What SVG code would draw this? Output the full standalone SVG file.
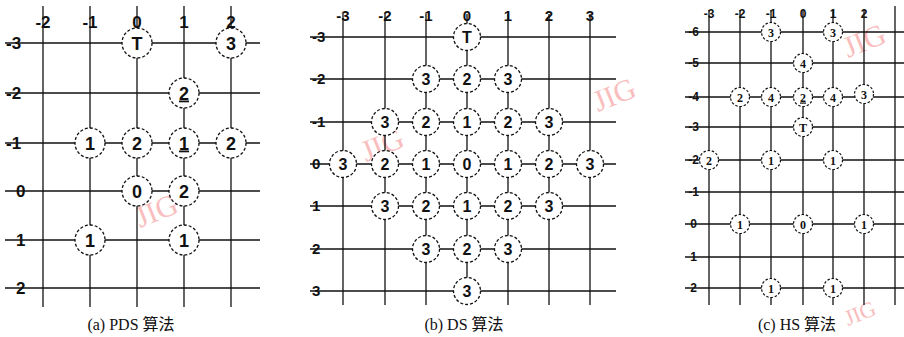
<svg xmlns="http://www.w3.org/2000/svg" width="904" height="337" viewBox="0 0 904 337">
<style>
.g line{stroke:#111;stroke-width:1.3}
.na circle{fill:#fff;stroke:#111;stroke-width:1.3;stroke-dasharray:3 2}
.na text{font-family:"Liberation Sans",Arial,sans-serif;font-weight:bold;font-size:18px;text-anchor:middle;fill:#111}
.nb circle{fill:#fff;stroke:#111;stroke-width:1.3;stroke-dasharray:3 2}
.nb text{font-family:"Liberation Sans",Arial,sans-serif;font-weight:bold;font-size:16px;text-anchor:middle;fill:#111}
.nc circle{fill:#fff;stroke:#111;stroke-width:1.2;stroke-dasharray:2.5 1.8}
.nc text{font-family:"Liberation Serif","Times New Roman",serif;font-weight:bold;font-size:12px;text-anchor:middle;fill:#111}
.la{font-family:"Liberation Sans",Arial,sans-serif;font-weight:bold;font-size:17px;fill:#111}
.lb{font-family:"Liberation Sans",Arial,sans-serif;font-weight:bold;font-size:15px;fill:#111}
.lc{font-family:"Liberation Sans",Arial,sans-serif;font-weight:bold;font-size:12px;fill:#111}
.cap{font-family:"Liberation Serif","Noto Sans CJK SC",serif;font-size:16px;fill:#111;text-anchor:middle}
.wm{font-family:"Liberation Serif",serif;font-size:30px;fill:#f7a8a8;opacity:0.75}
</style>

<!-- watermarks -->
<g id="watermarks">
<text class="wm" transform="translate(140,228) rotate(-22)">JIG</text>
<text class="wm" transform="translate(366,162) rotate(-22)">JIG</text>
<text class="wm" transform="translate(598,112) rotate(-22)">JIG</text>
<text class="wm" transform="translate(848,58) rotate(-22)">JIG</text>
<text class="wm" style="font-size:22px" transform="translate(848,326) rotate(-22)">JIG</text>
</g>

<!-- connectors: grid lines -->
<g id="connectors" class="g">
<!-- panel a -->
<line x1="5" y1="43" x2="260" y2="43"/>
<line x1="5" y1="93" x2="260" y2="93"/>
<line x1="5" y1="143" x2="260" y2="143"/>
<line x1="5" y1="191" x2="260" y2="191"/>
<line x1="5" y1="240" x2="260" y2="240"/>
<line x1="5" y1="288" x2="260" y2="288"/>
<line x1="43" y1="6" x2="43" y2="307"/>
<line x1="90" y1="6" x2="90" y2="307"/>
<line x1="137" y1="6" x2="137" y2="307"/>
<line x1="184" y1="6" x2="184" y2="307"/>
<line x1="231" y1="6" x2="231" y2="307"/>
<!-- panel b -->
<line x1="310" y1="37" x2="616" y2="37"/>
<line x1="310" y1="79" x2="616" y2="79"/>
<line x1="310" y1="122" x2="616" y2="122"/>
<line x1="310" y1="164" x2="616" y2="164"/>
<line x1="310" y1="206" x2="616" y2="206"/>
<line x1="310" y1="249" x2="616" y2="249"/>
<line x1="310" y1="291" x2="616" y2="291"/>
<line x1="343" y1="14" x2="343" y2="305"/>
<line x1="385" y1="14" x2="385" y2="305"/>
<line x1="426" y1="14" x2="426" y2="305"/>
<line x1="467" y1="14" x2="467" y2="305"/>
<line x1="508" y1="14" x2="508" y2="305"/>
<line x1="549" y1="14" x2="549" y2="305"/>
<line x1="590" y1="14" x2="590" y2="305"/>
<!-- panel c -->
<line x1="685" y1="32" x2="904" y2="32"/>
<line x1="685" y1="63" x2="904" y2="63"/>
<line x1="685" y1="97" x2="904" y2="97"/>
<line x1="685" y1="127" x2="904" y2="127"/>
<line x1="685" y1="160" x2="904" y2="160"/>
<line x1="685" y1="192" x2="904" y2="192"/>
<line x1="685" y1="224" x2="904" y2="224"/>
<line x1="685" y1="257" x2="904" y2="257"/>
<line x1="685" y1="288" x2="904" y2="288"/>
<line x1="709" y1="10" x2="709" y2="305"/>
<line x1="740" y1="10" x2="740" y2="305"/>
<line x1="771" y1="10" x2="771" y2="305"/>
<line x1="803" y1="10" x2="803" y2="305"/>
<line x1="833" y1="10" x2="833" y2="305"/>
<line x1="864" y1="10" x2="864" y2="305"/>
<line x1="895" y1="6" x2="895" y2="305"/>
</g>

<!-- axis labels -->
<g id="labels-a" class="la">
<text x="43" y="28" text-anchor="middle">-2</text>
<text x="90" y="28" text-anchor="middle">-1</text>
<text x="137" y="28" text-anchor="middle">0</text>
<text x="184" y="28" text-anchor="middle">1</text>
<text x="231" y="28" text-anchor="middle">2</text>
<text x="6" y="49">-3</text>
<text x="6" y="99">-2</text>
<text x="6" y="149">-1</text>
<text x="16" y="197">0</text>
<text x="16" y="246">1</text>
<text x="16" y="294">2</text>
</g>
<g id="labels-b" class="lb">
<text x="343" y="21" text-anchor="middle">-3</text>
<text x="385" y="21" text-anchor="middle">-2</text>
<text x="426" y="21" text-anchor="middle">-1</text>
<text x="467" y="21" text-anchor="middle">0</text>
<text x="508" y="21" text-anchor="middle">1</text>
<text x="549" y="21" text-anchor="middle">2</text>
<text x="590" y="21" text-anchor="middle">3</text>
<text x="312" y="42">-3</text>
<text x="312" y="84">-2</text>
<text x="312" y="127">-1</text>
<text x="312" y="169">0</text>
<text x="312" y="211">1</text>
<text x="312" y="254">2</text>
<text x="312" y="296">3</text>
</g>
<g id="labels-c" class="lc">
<text x="709" y="18" text-anchor="middle">-3</text>
<text x="740" y="18" text-anchor="middle">-2</text>
<text x="771" y="18" text-anchor="middle">-1</text>
<text x="803" y="18" text-anchor="middle">0</text>
<text x="833" y="18" text-anchor="middle">1</text>
<text x="864" y="18" text-anchor="middle">2</text>
<text x="699" y="36" text-anchor="end">-6</text>
<text x="699" y="67" text-anchor="end">-5</text>
<text x="699" y="101" text-anchor="end">-4</text>
<text x="699" y="131" text-anchor="end">-3</text>
<text x="699" y="164" text-anchor="end">-2</text>
<text x="699" y="196" text-anchor="end">-1</text>
<text x="697" y="228" text-anchor="end">0</text>
<text x="697" y="261" text-anchor="end">1</text>
<text x="697" y="292" text-anchor="end">2</text>
</g>

<!-- panel a nodes -->
<g class="na">
<g id="a-T"><circle cx="137" cy="43" r="15"/><text x="137" y="49.5">T</text></g>
<g id="a-3"><circle cx="231" cy="43" r="15"/><text x="231" y="49.5">3</text></g>
<g id="a-2u"><circle cx="184" cy="93" r="15"/><text x="184" y="99.5" text-decoration="underline">2</text></g>
<g id="a-1a"><circle cx="90" cy="143" r="15"/><text x="90" y="149.5">1</text></g>
<g id="a-2a"><circle cx="137" cy="143" r="15"/><text x="137" y="149.5">2</text></g>
<g id="a-1u"><circle cx="184" cy="143" r="15"/><text x="184" y="149.5" text-decoration="underline">1</text></g>
<g id="a-2b"><circle cx="231" cy="143" r="15"/><text x="231" y="149.5">2</text></g>
<g id="a-0"><circle cx="137" cy="191" r="15"/><text x="137" y="197.5">0</text></g>
<g id="a-2c"><circle cx="184" cy="191" r="15"/><text x="184" y="197.5">2</text></g>
<g id="a-1b"><circle cx="90" cy="240" r="15"/><text x="90" y="246.5">1</text></g>
<g id="a-1c"><circle cx="184" cy="240" r="15"/><text x="184" y="246.5">1</text></g>
</g>

<!-- panel b nodes -->
<g class="nb">
<g id="b-T"><circle cx="467" cy="37" r="13.5"/><text x="467" y="43">T</text></g>
<g id="b-m2a"><circle cx="426" cy="79" r="13.5"/><text x="426" y="85">3</text></g>
<g id="b-m2b"><circle cx="467" cy="79" r="13.5"/><text x="467" y="85">2</text></g>
<g id="b-m2c"><circle cx="508" cy="79" r="13.5"/><text x="508" y="85">3</text></g>
<g id="b-m1a"><circle cx="385" cy="122" r="13.5"/><text x="385" y="128">3</text></g>
<g id="b-m1b"><circle cx="426" cy="122" r="13.5"/><text x="426" y="128">2</text></g>
<g id="b-m1c"><circle cx="467" cy="122" r="13.5"/><text x="467" y="128">1</text></g>
<g id="b-m1d"><circle cx="508" cy="122" r="13.5"/><text x="508" y="128">2</text></g>
<g id="b-m1e"><circle cx="549" cy="122" r="13.5"/><text x="549" y="128">3</text></g>
<g id="b-0a"><circle cx="343" cy="164" r="13.5"/><text x="343" y="170">3</text></g>
<g id="b-0b"><circle cx="385" cy="164" r="13.5"/><text x="385" y="170">2</text></g>
<g id="b-0c"><circle cx="426" cy="164" r="13.5"/><text x="426" y="170">1</text></g>
<g id="b-0d"><circle cx="467" cy="164" r="13.5"/><text x="467" y="170">0</text></g>
<g id="b-0e"><circle cx="508" cy="164" r="13.5"/><text x="508" y="170">1</text></g>
<g id="b-0f"><circle cx="549" cy="164" r="13.5"/><text x="549" y="170">2</text></g>
<g id="b-0g"><circle cx="590" cy="164" r="13.5"/><text x="590" y="170">3</text></g>
<g id="b-1a"><circle cx="385" cy="206" r="13.5"/><text x="385" y="212">3</text></g>
<g id="b-1b"><circle cx="426" cy="206" r="13.5"/><text x="426" y="212">2</text></g>
<g id="b-1c"><circle cx="467" cy="206" r="13.5"/><text x="467" y="212">1</text></g>
<g id="b-1d"><circle cx="508" cy="206" r="13.5"/><text x="508" y="212">2</text></g>
<g id="b-1e"><circle cx="549" cy="206" r="13.5"/><text x="549" y="212">3</text></g>
<g id="b-2a"><circle cx="426" cy="249" r="13.5"/><text x="426" y="255">3</text></g>
<g id="b-2b"><circle cx="467" cy="249" r="13.5"/><text x="467" y="255">2</text></g>
<g id="b-2c"><circle cx="508" cy="249" r="13.5"/><text x="508" y="255">3</text></g>
<g id="b-3"><circle cx="467" cy="291" r="13.5"/><text x="467" y="297">3</text></g>
</g>

<!-- panel c nodes -->
<g class="nc">
<g id="c-m6a"><circle cx="771" cy="32" r="9.5"/><text x="771" y="36.5">3</text></g>
<g id="c-m6b"><circle cx="833" cy="32" r="9.5"/><text x="833" y="36.5">3</text></g>
<g id="c-m5"><circle cx="803" cy="63" r="9.5"/><text x="803" y="67.5">4</text></g>
<g id="c-m4a"><circle cx="740" cy="97" r="9.5"/><text x="740" y="101.5">2</text></g>
<g id="c-m4b"><circle cx="771" cy="97" r="9.5"/><text x="771" y="101.5">4</text></g>
<g id="c-m4c"><circle cx="803" cy="97" r="9.5"/><text x="803" y="101.5" text-decoration="underline">2</text></g>
<g id="c-m4d"><circle cx="833" cy="97" r="9.5"/><text x="833" y="101.5">4</text></g>
<g id="c-m4e"><circle cx="864" cy="94" r="9.5"/><text x="864" y="98.5">3</text></g>
<g id="c-T"><circle cx="803" cy="127" r="9.5"/><text x="803" y="131.5">T</text></g>
<g id="c-m2a"><circle cx="709" cy="160" r="9.5"/><text x="709" y="164.5">2</text></g>
<g id="c-m2b"><circle cx="771" cy="160" r="9.5"/><text x="771" y="164.5">1</text></g>
<g id="c-m2c"><circle cx="833" cy="160" r="9.5"/><text x="833" y="164.5">1</text></g>
<g id="c-0a"><circle cx="740" cy="224" r="9.5"/><text x="740" y="228.5">1</text></g>
<g id="c-0b"><circle cx="803" cy="224" r="9.5"/><text x="803" y="228.5">0</text></g>
<g id="c-0c"><circle cx="864" cy="224" r="9.5"/><text x="864" y="228.5">1</text></g>
<g id="c-2a"><circle cx="771" cy="288" r="9.5"/><text x="771" y="292.5">1</text></g>
<g id="c-2b"><circle cx="833" cy="288" r="9.5"/><text x="833" y="292.5">1</text></g>
</g>

<!-- captions -->
<g id="captions">
<text class="cap" x="131" y="330">(a) PDS 算法</text>
<text class="cap" x="464" y="330">(b) DS 算法</text>
<text class="cap" x="797" y="330">(c) HS 算法</text>
</g>
</svg>
